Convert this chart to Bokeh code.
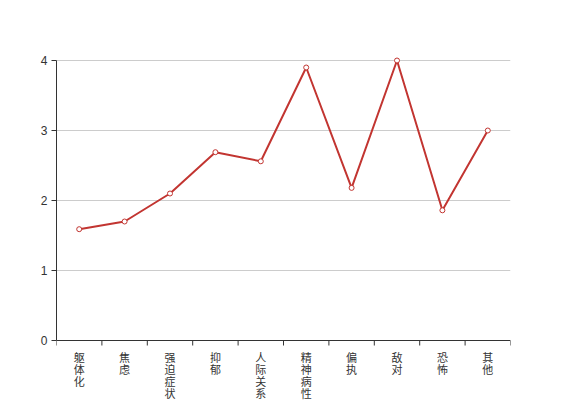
from bokeh.plotting import figure
from bokeh.models import Range1d, FixedTicker, Span, ColumnDataSource
from bokeh.core.properties import value
from bokeh.embed import file_html
from bokeh.resources import INLINE

categories = ["躯体化", "焦虑", "强迫症状", "抑郁", "人际关系敏感", "精神病性", "偏执", "敌对", "恐怖", "其他"]
values = [1.59, 1.70, 2.10, 2.69, 2.56, 3.90, 2.18, 4.00, 1.86, 3.00]
y_ticks = [0, 1, 2, 3, 4]

COLOR = "#c23531"
TXT = "#333333"
PX = 70.0  # pixels per y unit

n = len(categories)
x = [i + 0.5 for i in range(n)]

p = figure(width=567, height=400, output_backend="svg", toolbar_location=None,
           x_range=Range1d(0, n), y_range=Range1d(-60 / PX, 4 + 4 / PX),
           x_axis_location=None,
           min_border_left=56, min_border_right=57, min_border_top=56, min_border_bottom=0)
p.outline_line_color = None
p.background_fill_color = "white"
p.border_fill_color = "white"

p.xgrid.visible = False
p.ygrid.ticker = FixedTicker(ticks=y_ticks[1:])
p.ygrid.grid_line_color = "#cccccc"
p.ygrid.grid_line_width = 1

ya = p.yaxis[0]
ya.ticker = FixedTicker(ticks=y_ticks)
ya.bounds = (0, 4)
ya.axis_line_color = TXT
ya.major_tick_line_color = TXT
ya.major_tick_out = 5
ya.major_tick_in = 0
ya.minor_tick_line_color = None
ya.major_label_text_font_size = "12px"
ya.major_label_text_color = TXT
ya.major_label_text_font = "Liberation Sans"
ya.major_label_standoff = 4

# category axis drawn at y = 0
p.add_layout(Span(location=0, dimension="width", line_color=TXT, line_width=1))
bounds = list(range(n + 1))
p.segment(x0=bounds, y0=[0] * len(bounds), x1=bounds, y1=[-5 / PX] * len(bounds),
          line_color=TXT, line_width=1)

tx, ty, tt = [], [], []
for xi, cat in zip(x, categories):
    for j, ch in enumerate(cat):
        tx.append(xi)
        ty.append(-(8 + 12 * j) / PX)
        tt.append(ch)
p.text(x="x", y="y", text="t", source=ColumnDataSource(dict(x=tx, y=ty, t=tt)),
       text_align="center", text_baseline="top",
       text_font=value("Noto Sans CJK SC"), text_font_size="11px", text_color=TXT)

p.line(x, values, line_color=COLOR, line_width=2)
p.scatter(x, values, size=5, fill_color="white", line_color=COLOR, line_width=1)

open("out.html", "w").write(file_html(p, INLINE))
